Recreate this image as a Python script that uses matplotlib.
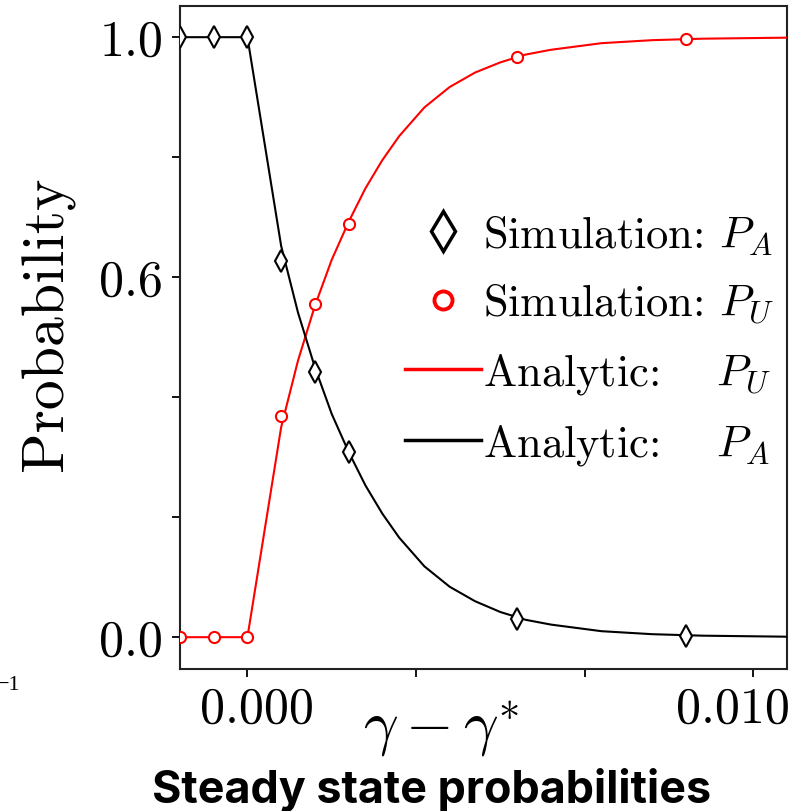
import numpy as np
import matplotlib
matplotlib.use('Agg')
import matplotlib.pyplot as plt
import matplotlib.transforms as mtransforms

# --- datos ---
sim_x = [-0.001333, -0.000667, 0.0, 0.000667, 0.001333, 0.002, 0.005333, 0.008667]
sim_pa = [1.0, 1.0, 1.0, 0.627, 0.442, 0.308, 0.030, 0.002]
sim_pu = [0.0, 0.0, 0.0, 0.368, 0.555, 0.688, 0.967, 0.997]

ana_x = [-0.001333, -0.000667, 0.0, 0.000667, 0.001, 0.001333, 0.001667, 0.002, 0.002333,
         0.002667, 0.003, 0.0035, 0.004, 0.0045, 0.005, 0.0055, 0.006, 0.007, 0.008,
         0.009, 0.01067]
ana_pu = [0.0, 0.0, 0.0, 0.350, 0.461, 0.552, 0.629, 0.692, 0.748,
          0.795, 0.835, 0.883, 0.917, 0.941, 0.958, 0.971, 0.979, 0.990, 0.995,
          0.9975, 0.9992]
ana_pa = [1.0, 1.0, 1.0, 0.652, 0.541, 0.450, 0.372, 0.309, 0.253,
          0.206, 0.166, 0.118, 0.084, 0.060, 0.042, 0.029, 0.021, 0.010, 0.005,
          0.0025, 0.0008]

xticks = [0.0, 0.01 / 3, 0.02 / 3, 0.01]
xtick_labels = ['0.000', '', '', '0.010']
yticks = [0.0, 0.2, 0.4, 0.6, 0.8, 1.0]
ytick_labels = ['0.0', '', '', '0.6', '', '1.0']

plt.rcParams['font.family'] = 'serif'
plt.rcParams['font.serif'] = ['cmr10']
plt.rcParams['mathtext.fontset'] = 'cm'
plt.rcParams['axes.unicode_minus'] = False

fig = plt.figure(figsize=(7.92, 8.12), dpi=100)
ax = fig.add_axes([0.2273, 0.1749, 0.7664, 0.8165])

ax.plot(sim_x, sim_pa, linestyle='none', marker='d', ms=11, mfc='white', mec='black',
        mew=1.5, label=r'Simulation: $P_A$', zorder=4)
ax.plot(sim_x, sim_pu, linestyle='none', marker='o', ms=8, mfc='white', mec='red',
        mew=1.5, label=r'Simulation: $P_U$', zorder=4)
ax.plot(ana_x, ana_pu, color='red', lw=1.5, label=r'Analytic:$\quad\;\,P_U$', zorder=3)
ax.plot(ana_x, ana_pa, color='black', lw=1.5, label=r'Analytic:$\quad\;\,P_A$', zorder=3)

ax.set_xlim(-0.001333, 0.01067)
ax.set_ylim(-0.053, 1.052)
ax.set_xticks(xticks)
ax.set_xticklabels(xtick_labels)
ax.set_yticks(yticks)
ax.set_yticklabels(ytick_labels)
ax.tick_params(axis='both', direction='out', length=6, width=1.3, labelsize=36, pad=6)
for s in ax.spines.values():
    s.set_linewidth(1.5)
    s.set_color('#222222')

# desplazamiento de las etiquetas extremas como en la figura original
shifts = [10, 0, 0, -20]
for lbl, dx in zip(ax.get_xticklabels(), shifts):
    lbl.set_transform(lbl.get_transform() +
                      mtransforms.ScaledTranslation(dx / 100, 0, fig.dpi_scale_trans))

ax.set_ylabel('Probability', fontsize=43)
ax.yaxis.set_label_coords(-0.173, 0.522)
ax.set_xlabel(r'$\gamma - \gamma^{*}$', fontsize=44)
ax.xaxis.set_label_coords(0.430, -0.043)

leg = ax.legend(loc='upper left', bbox_to_anchor=(0.371, 0.688), frameon=False,
                fontsize=32, markerscale=2, handlelength=1.7, handletextpad=0.05,
                labelspacing=0.58, borderpad=0, borderaxespad=0)
hs = leg.legend_handles
hs[0].set_markersize(20)
hs[0].set_markeredgewidth(2.5)
hs[1].set_markersize(13)
hs[1].set_markeredgewidth(2.8)
hs[2].set_linewidth(2.5)
hs[3].set_linewidth(2.5)

fig.text(0.545, 0.027, 'Steady state probabilities', family='Inter', weight='bold',
         fontsize=32.3, ha='center', va='center')
fig.text(-0.004, 1 - 686 / 812, '\u22121', family='Liberation Serif', fontsize=16,
         ha='left', va='center')

fig.savefig('out.png', dpi=100)
